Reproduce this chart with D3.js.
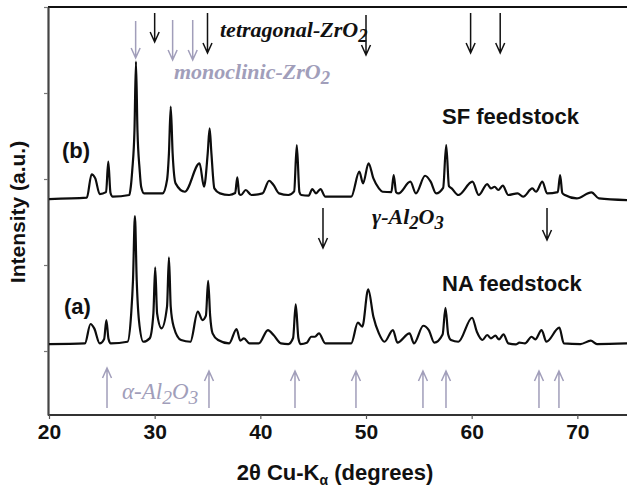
<!DOCTYPE html>
<html>
<head>
<meta charset="utf-8">
<script src="https://cdn.jsdelivr.net/npm/d3@7"></script>
<style>
  body { margin: 0; background: #fff; }
  svg { display: block; }
</style>
</head>
<body>
<div id="chart"></div>
<script>
// XRD patterns: 2-theta (deg) and intensity above background (counts)
// (b) SF feedstock
const thetaB = [20.00, 23.58, 24.03, 24.38, 24.80, 25.40, 25.61, 25.82, 26.03, 27.60, 27.74, 27.88, 28.09, 28.23, 28.37, 28.58, 28.72, 29.00,
  30.75, 31.17, 31.35, 31.52, 31.70, 31.98, 32.85, 34.25, 34.67, 35.02, 35.20, 35.37, 35.65, 36.18, 37.05, 37.62, 37.82, 38.00, 38.17,
  38.62, 39.15, 40.20, 40.83, 41.25, 41.77, 42.65, 43.20, 43.45, 43.70, 43.87, 44.57, 44.92, 45.27, 45.69, 46.15, 48.60, 49.37, 49.72,
  50.24, 50.70, 51.22, 51.57, 52.40, 52.62, 52.85, 53.08, 54.20, 54.72, 55.59, 56.12, 56.64, 57.30, 57.59, 57.85, 58.11, 58.74, 60.07,
  60.67, 61.47, 61.82, 62.17, 62.52, 62.94, 63.47, 64.34, 64.87, 65.74, 66.09, 66.69, 67.14, 68.15, 68.37, 68.58, 68.82, 69.94, 71.34,
  72.04, 74.77];
const intenB = [0, 16, 287, 240, 58, 80, 434, 70, 27, 47, 143, 337, 802, 1597, 802, 337, 143, 66,
  66, 221, 531, 1074, 531, 182, 85, 415, 143, 531, 822, 531, 124, 66, 47, 70, 252, 60, 47,
  105, 47, 66, 213, 163, 66, 47, 90, 628, 80, 47, 39, 116, 66, 116, 27, 27, 318, 182,
  415, 240, 124, 85, 80, 279, 80, 66, 202, 66, 271, 202, 66, 130, 628, 150, 124, 47, 202,
  47, 174, 124, 143, 105, 155, 47, 66, 27, 124, 85, 202, 66, 80, 279, 70, 47, 8, 78,
  8, -12];

// (a) NA feedstock
const thetaA = [20.00, 23.40, 23.93, 24.28, 24.80, 25.22, 25.43, 25.63, 25.85, 27.43, 27.78, 27.95, 28.13, 28.30, 28.51, 28.93, 29.53,
  29.88, 30.05, 30.23, 30.65, 31.17, 31.35, 31.52, 31.80, 32.50, 33.38, 34.08, 34.53, 34.85, 35.06, 35.25, 35.48, 36.00, 37.05, 37.75,
  38.10, 38.45, 38.97, 39.85, 40.72, 41.25, 41.95, 42.65, 43.10, 43.35, 43.60, 43.80, 44.40, 44.82, 45.17, 45.55, 46.15, 48.60, 49.23,
  49.65, 50.21, 50.70, 51.22, 51.75, 52.55, 52.97, 54.12, 54.54, 55.42, 55.94, 56.47, 57.25, 57.52, 57.78, 58.04, 58.74, 60.04, 60.49,
  61.02, 61.47, 61.82, 62.24, 62.59, 63.01, 63.47, 64.17, 64.52, 65.04, 65.67, 66.02, 66.62, 67.07, 68.30, 68.72, 70.29, 71.27, 71.86,
  74.77];
const intenA = [0, 8, 233, 182, 8, 60, 279, 60, 8, 27, 357, 744, 1488, 744, 279, 27, 66,
  357, 891, 357, 182, 434, 1008, 434, 202, 47, 27, 376, 279, 330, 736, 330, 124, 47, 8, 174,
  39, 66, 8, 8, 163, 105, 8, 0, 70, 461, 70, 0, 16, 85, 85, 124, 8, 8, 248,
  202, 636, 318, 124, 27, 163, 16, 124, 8, 213, 163, 16, 110, 422, 110, 47, 27, 306, 143,
  47, 105, 66, 97, 54, 112, 8, -4, 16, 8, 85, 54, 163, 27, 190, 8, 0, 39, 0,
  8];

// vertical stacking offsets
const offsetA = 81;
const offsetB = 1767;

const xTicks = [20, 30, 40, 50, 60, 70];
const yTicks = [0, 1000, 2000, 3000, 4000];

// phase reference markers: position, arrow tail and tip (counts)
const tetraPos = [30.0, 35.0, 50.0, 59.9, 62.7];
const tetraTail = [3930, 3930, 3907, 3930, 3930];
const tetraTip = [3593, 3465, 3442, 3465, 3465];
const monoPos = [28.2, 31.7, 33.6];
const monoTail = [3837, 3849, 3849];
const monoTip = [3407, 3384, 3384];
const gammaPos = [45.93, 67.13];
const gammaTail = [1663, 1663];
const gammaTip = [1198, 1291];
const alphaPos = [25.49, 35.14, 43.28, 49.05, 55.39, 57.57, 66.37, 68.26];
const alphaTail = [-663, -663, -663, -663, -663, -663, -663, -663];
const alphaTip = [-198, -233, -233, -233, -233, -233, -233, -233];

const W = 627, H = 489;
const grey = '#a19eba';

const svg = d3.select('#chart').append('svg')
  .attr('width', W).attr('height', H);

const x = d3.scaleLinear().domain([20, 74.7]).range([49, 627]);
const y = d3.scaleLinear().domain([-744, 4000]).range([415, 7]);

// frame
svg.append('line')
  .attr('x1', 48).attr('x2', W).attr('y1', 7).attr('y2', 7)
  .attr('stroke', '#111').attr('stroke-width', 2.2);

const xAxis = svg.append('g')
  .attr('transform', 'translate(0,415)')
  .call(d3.axisBottom(x).tickValues(xTicks).tickSize(4).tickPadding(5).tickSizeOuter(0));
xAxis.select('.domain').attr('stroke', '#333').attr('stroke-width', 1.8).attr('d', `M48,0H${W}`);
xAxis.selectAll('.tick line').attr('stroke', '#555').attr('stroke-width', 1.2);
xAxis.selectAll('text')
  .attr('font-family', 'Liberation Sans, Arial, sans-serif')
  .attr('font-weight', 'bold').attr('font-size', 21).attr('fill', '#111');

const yAxis = svg.append('g')
  .attr('transform', 'translate(48,0)')
  .call(d3.axisLeft(y).tickValues(yTicks).tickSize(4).tickFormat('').tickSizeOuter(0));
yAxis.select('.domain').attr('stroke', '#444').attr('stroke-width', 2.2);
yAxis.selectAll('.tick line').attr('stroke', '#777').attr('stroke-width', 1.2);

// patterns
const line = d3.line().curve(d3.curveMonotoneX);
const series = [
  { theta: thetaB, inten: intenB, off: offsetB },
  { theta: thetaA, inten: intenA, off: offsetA }
];
series.forEach(s => {
  const pts = s.theta.map((t, i) => [x(t), y(s.inten[i] + s.off)]);
  svg.append('path')
    .attr('d', line(pts))
    .attr('fill', 'none')
    .attr('stroke', '#0d0d0d')
    .attr('stroke-width', 2.2)
    .attr('stroke-linejoin', 'round');
});

// arrows
const drawArrows = (pos, tail, tip, color) => {
  pos.forEach((p, i) => {
    const px = x(p), y0 = y(tail[i]), y1 = y(tip[i]);
    const dir = y1 > y0 ? -1 : 1;
    svg.append('path')
      .attr('d', `M${px},${y0}L${px},${y1}M${px - 4.5},${y1 + dir * 10}L${px},${y1}L${px + 4.5},${y1 + dir * 10}`)
      .attr('fill', 'none')
      .attr('stroke', color)
      .attr('stroke-width', 1.5);
  });
};
drawArrows(tetraPos, tetraTail, tetraTip, '#111');
drawArrows(monoPos, monoTail, monoTip, grey);
drawArrows(gammaPos, gammaTail, gammaTip, '#111');
drawArrows(alphaPos, alphaTail, alphaTip, grey);

// labels
const serif = 'Liberation Serif, Times New Roman, serif';
const sans = 'Liberation Sans, Arial, sans-serif';

const chem = (tx, ty, parts, color, size, bold) => {
  const t = svg.append('text')
    .attr('x', tx).attr('y', ty)
    .attr('font-family', serif)
    .attr('font-style', 'italic')
    .attr('font-weight', bold ? 'bold' : 'normal')
    .attr('font-size', size)
    .attr('fill', color);
  parts.forEach(([s, sub]) => {
    t.append('tspan')
      .attr('dy', sub === 1 ? 5 : (sub === -1 ? -5 : 0))
      .attr('font-size', sub === 1 ? size * 0.85 : size)
      .text(s);
  });
  return t;
};

chem(220, 37, [['tetragonal-ZrO', 0], ['2', 1]], '#111', 22, true);
chem(174, 79, [['monoclinic-ZrO', 0], ['2', 1]], grey, 22, true);
chem(372, 224, [['\u03b3-Al', 0], ['2', 1], ['O', -1], ['3', 1]], '#111', 22, true);
chem(122, 399, [['\u03b1-Al', 0], ['2', 1], ['O', -1], ['3', 1]], grey, 23, false);

const label = (tx, ty, s) => svg.append('text')
  .attr('x', tx).attr('y', ty)
  .attr('font-family', sans).attr('font-weight', 'bold')
  .attr('font-size', 22).attr('fill', '#111')
  .text(s);

label(442, 124, 'SF feedstock');
label(62, 158, '(b)');
label(442, 291, 'NA feedstock');
label(64, 314, '(a)');

// axis titles
const xt = svg.append('text')
  .attr('x', 335).attr('y', 480)
  .attr('text-anchor', 'middle')
  .attr('font-family', sans).attr('font-weight', 'bold')
  .attr('font-size', 22).attr('fill', '#111');
xt.append('tspan').text('2\u03b8 Cu-K');
xt.append('tspan').attr('dy', 5).attr('font-size', 14).text('\u03b1');
xt.append('tspan').attr('dy', -5).text(' (degrees)');

svg.append('text')
  .attr('transform', 'translate(25,212) rotate(-90)')
  .attr('text-anchor', 'middle')
  .attr('font-family', sans).attr('font-weight', 'bold')
  .attr('font-size', 21).attr('fill', '#111')
  .text('Intensity (a.u.)');
</script>
</body>
</html>
